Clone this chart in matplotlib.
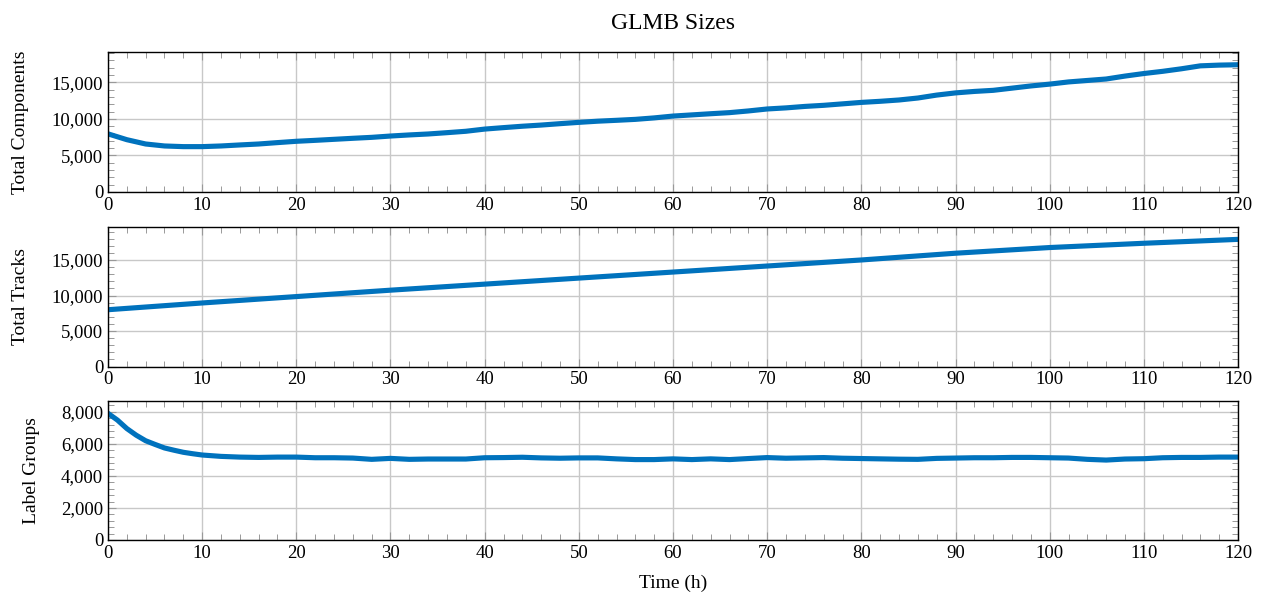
import matplotlib.pyplot as plt
from matplotlib.ticker import MultipleLocator, FuncFormatter

# time axis in hours
hours = list(range(0, 121, 2))

total_components = [7950, 7150, 6560, 6290, 6200, 6200, 6290, 6430, 6560, 6750,
                    6930, 7060, 7200, 7340, 7470, 7650, 7800, 7930, 8110, 8300,
                    8600, 8800, 8990, 9150, 9340, 9520, 9680, 9800, 9930, 10130,
                    10380, 10540, 10700, 10850, 11080, 11350, 11500, 11700, 11850, 12050,
                    12250, 12400, 12580, 12850, 13250, 13550, 13750, 13900, 14200, 14500,
                    14750, 15050, 15250, 15450, 15850, 16200, 16500, 16850, 17250, 17350,
                    17400]

track_hours = [0, 10, 20, 30, 40, 50, 60, 70, 80, 90, 100, 110, 120]
total_tracks = [8000, 8950, 9850, 10750, 11600, 12450, 13300, 14150, 15000, 15950,
                16750, 17350, 17900]

group_hours = [0, 1, 2, 3, 4, 5, 6, 7, 8, 9] + list(range(10, 121, 2))
label_groups = [7900, 7480, 6950, 6535, 6190, 5960, 5740, 5600, 5470, 5380,
                5300, 5215, 5170, 5150, 5170, 5170, 5130, 5130, 5110, 5030,
                5090, 5030, 5050, 5050, 5050, 5130, 5140, 5160, 5120, 5100,
                5120, 5120, 5060, 5015, 5015, 5060, 5015, 5060, 5015, 5080,
                5140, 5100, 5120, 5140, 5100, 5080, 5060, 5040, 5030, 5090,
                5110, 5130, 5130, 5150, 5150, 5130, 5110, 5030, 4985, 5050,
                5070, 5130, 5150, 5150, 5170, 5170]

line_color = '#0072BD'
plt.rcParams['font.family'] = ['Liberation Serif', 'DejaVu Serif']
plt.rcParams['font.size'] = 14


def style_axis(ax, ymajor, yminor):
    ax.set_xlim(0, 120)
    ax.xaxis.set_major_locator(MultipleLocator(10))
    ax.xaxis.set_minor_locator(MultipleLocator(2))
    ax.yaxis.set_major_locator(MultipleLocator(ymajor))
    ax.yaxis.set_minor_locator(MultipleLocator(yminor))
    ax.yaxis.set_major_formatter(FuncFormatter(lambda v, p: '{:,.0f}'.format(v)))
    ax.tick_params(which='both', direction='in', top=True, right=True,
                   colors='#999999', labelcolor='black', labelsize=13.5)
    ax.tick_params(which='major', length=6, width=0.8)
    ax.tick_params(which='minor', length=4, width=0.7)
    ax.grid(True, which='major', color='#c8c8c8', linewidth=1.0)
    ax.set_axisbelow(True)
    for s in ax.spines.values():
        s.set_linewidth(1.0)
        s.set_color('black')


fig = plt.figure(figsize=(12.66, 5.98), dpi=100)
left, width = 0.0853, 0.8926

ax1 = fig.add_axes([left, 0.679, width, 0.234])
ax1.plot(hours, total_components, color=line_color, linewidth=3.7)
ax1.set_ylim(0, max(total_components) * 1.1)
ax1.set_ylabel('Total Components', labelpad=16)
style_axis(ax1, 5000, 1000)

ax2 = fig.add_axes([left, 0.387, width, 0.234])
ax2.plot(track_hours, total_tracks, color=line_color, linewidth=3.7)
ax2.set_ylim(0, max(total_tracks) * 1.1)
ax2.set_ylabel('Total Tracks', labelpad=16)
style_axis(ax2, 5000, 1000)

ax3 = fig.add_axes([left, 0.097, width, 0.233])
ax3.plot(group_hours, label_groups, color=line_color, linewidth=3.7)
ax3.set_ylim(0, max(label_groups) * 1.1)
ax3.set_ylabel('Label Groups', labelpad=15)
ax3.set_xlabel('Time (h)', labelpad=9)
style_axis(ax3, 2000, 400)

fig.text(0.5316, 0.961, 'GLMB Sizes', ha='center', va='center', fontsize=17)

fig.savefig('out.png', dpi=100)
